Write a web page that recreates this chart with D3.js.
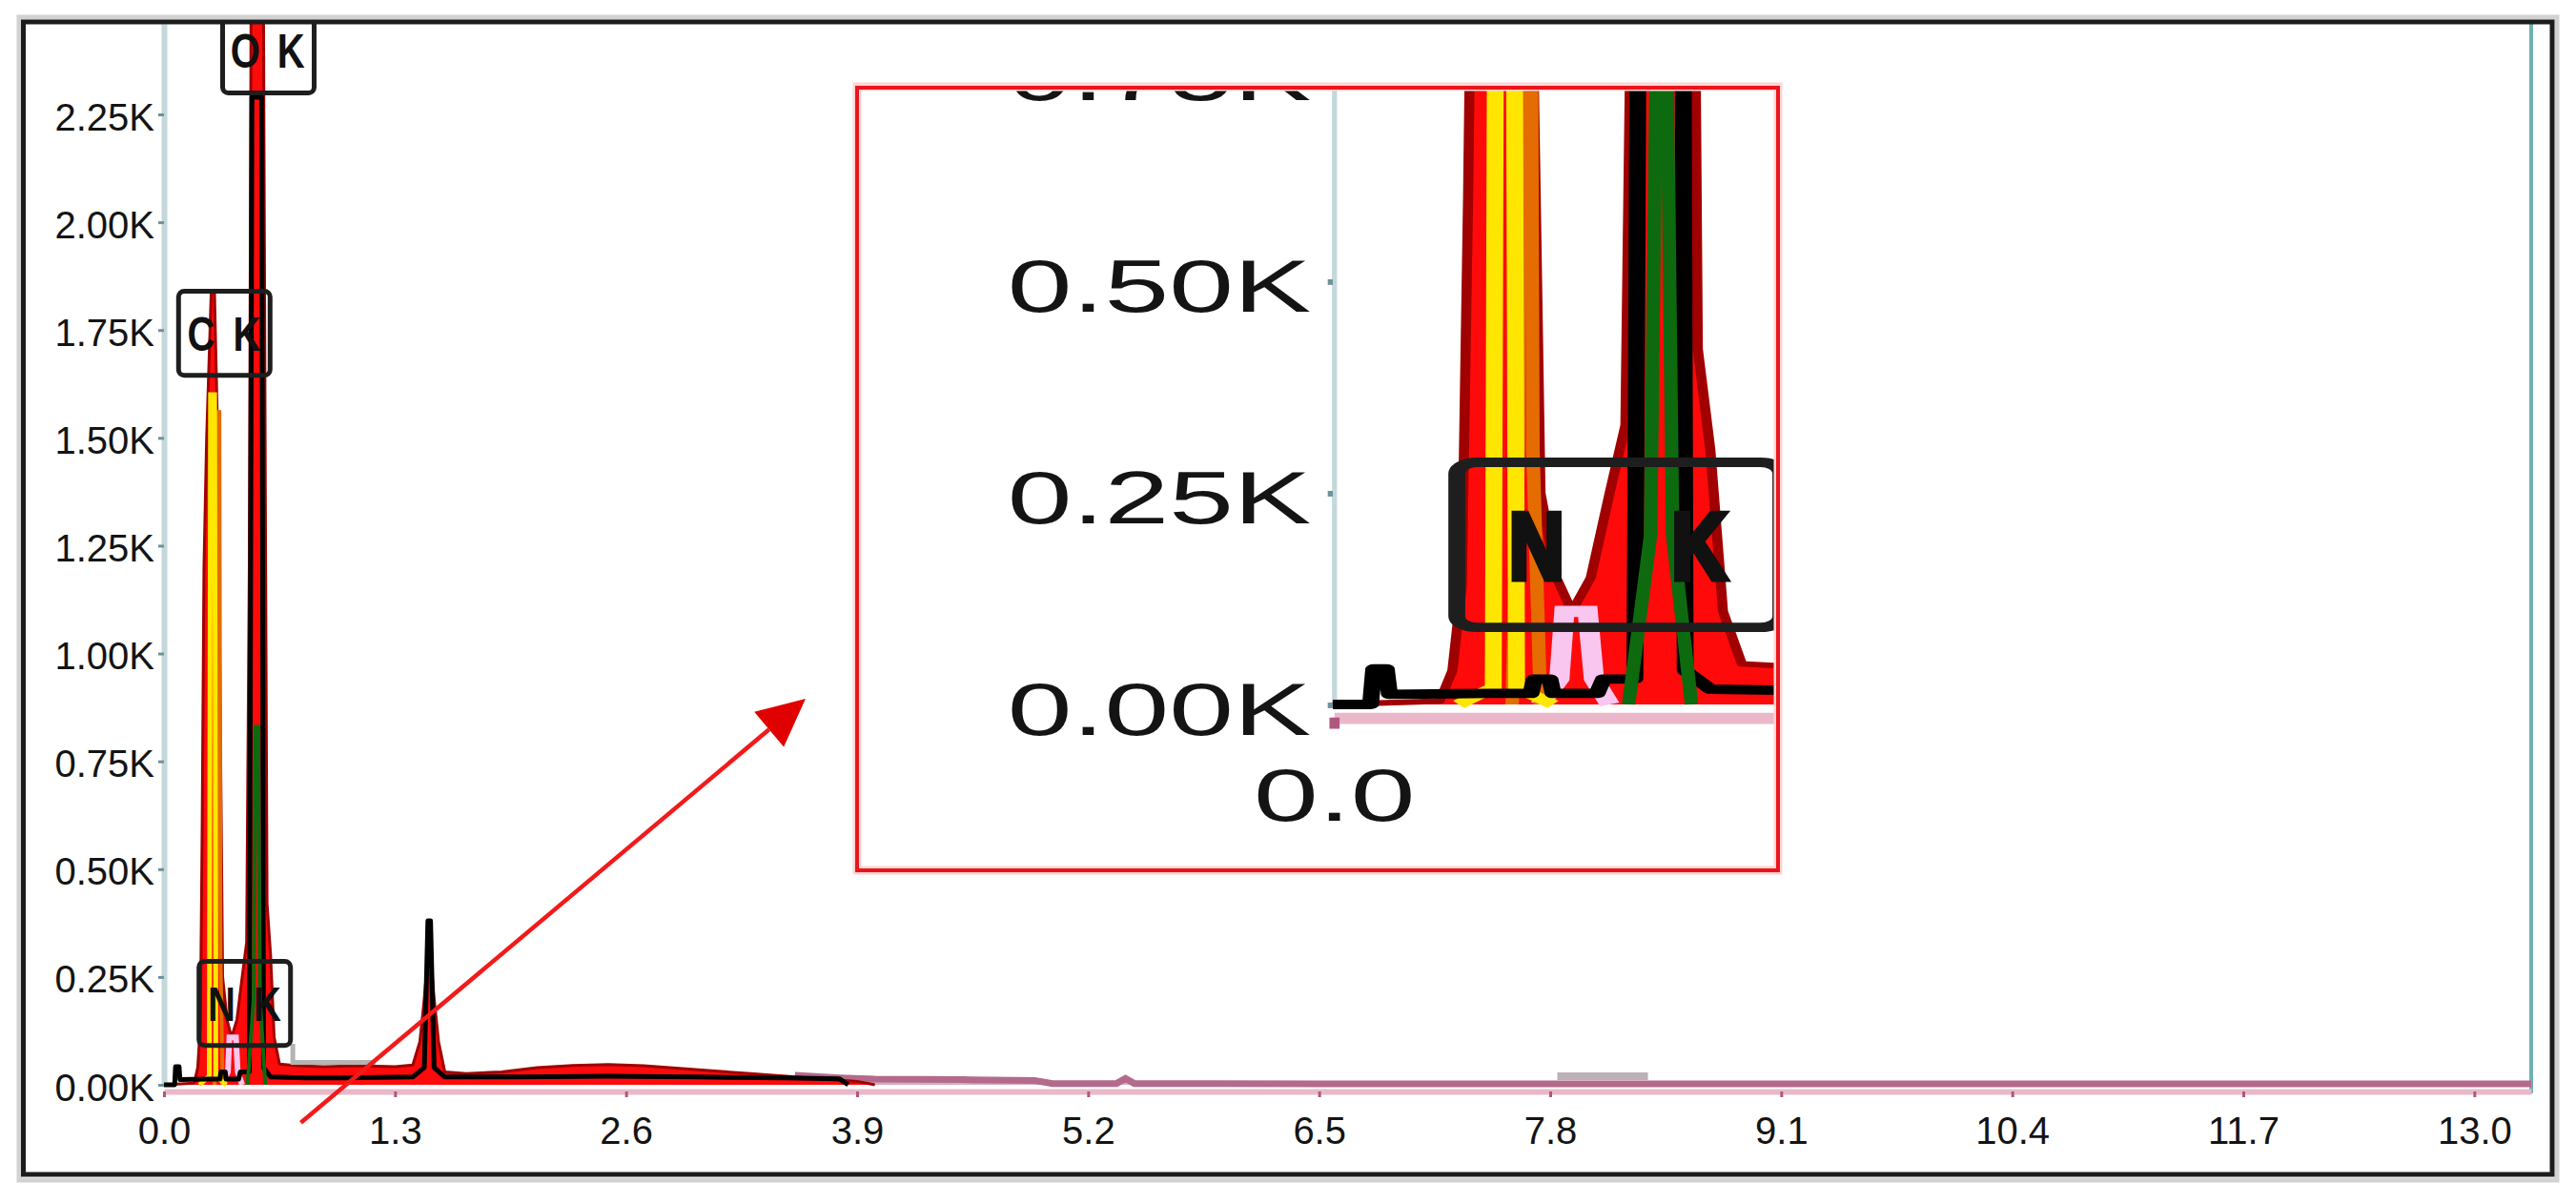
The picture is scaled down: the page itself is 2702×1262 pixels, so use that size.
<!DOCTYPE html>
<html><head><meta charset="utf-8">
<script src="https://cdn.jsdelivr.net/npm/d3@7"></script>
<style>html,body{margin:0;padding:0;background:#fff;} svg{display:block;}</style>
</head><body>
<svg id="chart" width="2702" height="1262"></svg>
<script>
// ---------------- data (energy keV, counts) ----------------
const xTicks = [0.0, 1.3, 2.6, 3.9, 5.2, 6.5, 7.8, 9.1, 10.4, 11.7, 13.0];
const yTicks = [0, 250, 500, 750, 1000, 1250, 1500, 1750, 2000, 2250];
const insetXTicks = [0.0];
const insetYTicks = [0, 250, 500, 750];

const redSpectrum = [
  [0.00,0],[0.17,4],[0.19,40],[0.205,140],[0.215,600],[0.225,1200],[0.24,1500],[0.266,1840],[0.284,1840],
  [0.305,1450],[0.318,800],[0.33,250],[0.355,150],[0.38,110],[0.41,150],[0.44,250],[0.465,330],[0.48,1200],
  [0.49,2500],[0.56,2500],[0.57,1400],[0.58,420],[0.60,300],[0.62,110],[0.65,48],[0.75,44],[0.9,42],
  [1.1,44],[1.3,42],[1.40,46],[1.44,100],[1.465,200],[1.48,275],[1.505,275],[1.52,200],[1.545,100],[1.58,30],
  [1.7,26],[1.9,30],[2.1,40],[2.3,45],[2.5,47],[2.7,44],[2.9,38],[3.1,32],[3.3,26],[3.5,20],[3.7,14],[3.9,8],[4.0,0]
];
const blackSpectrum = [
  [0.00,0],[0.06,0],[0.065,42],[0.085,42],[0.09,12],[0.25,13],[0.315,13],[0.32,30],[0.345,30],[0.35,13],
  [0.42,13],[0.43,30],[0.48,30],[0.495,2290],[0.55,2290],[0.56,40],[0.6,18],[0.8,16],[1.0,16],[1.4,18],
  [1.465,40],[1.485,380],[1.50,380],[1.52,40],[1.58,18],[2.0,18],[2.5,20],[3.0,18],[3.5,16],[3.8,14],[3.85,0]
];
const yellowSpectrum = [[0.20,0],[0.255,20],[0.262,1600],[0.285,1600],[0.292,20],[0.35,0]];
const orangeSpectrum = [[0.285,0],[0.295,300],[0.30,1560],[0.312,1560],[0.318,300],[0.33,0]];
const pinkSpectrum   = [[0.33,0],[0.36,30],[0.368,110],[0.405,110],[0.415,30],[0.44,0]];
const greenSpectrum  = [[0.47,0],[0.505,200],[0.515,830],[0.53,830],[0.54,200],[0.57,0]];
const mauveSpectrum  = [[3.55,22],[3.8,16],[4.0,13],[4.5,12],[4.9,10],[5.0,3],[5.36,3],[5.41,15],[5.46,3],[6.5,2],[9.0,2],[13.32,2]];
const greyTrace      = [[0.725,95],[0.725,52],[1.19,52]];
const greyBar        = [[7.84,20],[8.35,20]];

const elementSymbols  = ["C", "N", "O"];
const elementEnergies = [0.277, 0.392, 0.525];
const elementLines    = ["K", "K", "K"];
const labelBaseCounts = [1645, 91, 2300];

const arrowFrom = [0.77, -88];
const arrowTo   = [3.61, 895];

// ---------------- layout ----------------
const svg = d3.select("#chart");
const FONT = "'Liberation Sans Narrow','Liberation Sans',Arial,sans-serif";
const x = d3.scaleLinear().domain([0, 13.32]).range([172, 2655]);
const y = d3.scaleLinear().domain([0, 2460]).range([1138, 25]);

svg.append("rect").attr("width", 2702).attr("height", 1262).attr("fill", "#fff");

const defs = svg.append("defs");
defs.append("clipPath").attr("id", "plotClip").append("rect")
  .attr("x", x(0) - 2).attr("y", 24).attr("width", x(13.32) - x(0) + 4).attr("height", y(0) + 8 - 24);
const inset = {x0: 899, y0: 92, x1: 1865, y1: 913};
defs.append("clipPath").attr("id", "insetClip").append("rect")
  .attr("x", inset.x0).attr("y", inset.y0).attr("width", inset.x1 - inset.x0).attr("height", inset.y1 - inset.y0);

const line = d3.line().x(d => x(d[0])).y(d => y(d[1]));
const area = d3.area().x(d => x(d[0])).y0(y(0)).y1(d => y(d[1]));

function drawPlot(g, o) {
  // y axis
  const ya = g.append("g").attr("transform", `translate(${x(0)},0)`)
    .call(d3.axisLeft(y).tickValues(o.yTicks).tickFormat(d => (d / 1000).toFixed(2) + "K")
      .tickSize(o.tickSize).tickSizeOuter(0).tickPadding(o.tickPad));
  ya.select(".domain").attr("stroke", "#c4d8dc").attr("stroke-width", o.axisStroke);
  ya.selectAll(".tick line").attr("stroke", "#6f929a").attr("stroke-width", 3);
  ya.selectAll(".tick text").attr("font-family", FONT).attr("font-size", 40)
    .attr("fill", "#141414").attr("dy", "0.40em").attr("transform", `scale(${o.axisSX},1)`);

  // right border line
  if (o.rightLine) {
    g.append("line").attr("x1", x(13.32)).attr("x2", x(13.32)).attr("y1", y(2460)).attr("y2", y(0) + 9)
      .attr("stroke", "#6fb0b0").attr("stroke-width", 4);
  }

  // x axis
  const xa = g.append("g").attr("transform", `translate(0,${y(0) + 7})`)
    .call(d3.axisBottom(x).tickValues(o.xTicks).tickFormat(d3.format(".1f"))
      .tickSize(6).tickSizeOuter(0).tickPadding(21));
  xa.select(".domain").attr("stroke", "#eab8ca").attr("stroke-width", 6);
  xa.selectAll(".tick line").attr("stroke", "#b0577e").attr("stroke-width", 3);
  xa.selectAll(".tick text").attr("font-family", FONT).attr("font-size", 40).attr("fill", "#141414")
    .attr("transform", `scale(${o.axisSX},1)`);

  const sp = g.append("g").attr("clip-path", "url(#plotClip)");
  sp.append("path").datum(mauveSpectrum).attr("d", area).attr("fill", "#d8aabd");
  sp.append("path").datum(mauveSpectrum).attr("d", line).attr("fill", "none")
    .attr("stroke", "#b46a8b").attr("stroke-width", 7);
  sp.append("path").datum(redSpectrum).attr("d", area).attr("fill", "#ff0a0a");
  sp.append("path").datum(redSpectrum).attr("d", line).attr("fill", "none")
    .attr("stroke", "#a00000").attr("stroke-width", 3).attr("stroke-linejoin", "round");
  sp.append("path").datum(pinkSpectrum).attr("d", line).attr("fill", "none")
    .attr("stroke", "#f8c6ef").attr("stroke-width", 6);
  sp.append("path").datum(orangeSpectrum).attr("d", line).attr("fill", "none")
    .attr("stroke", "#e46c00").attr("stroke-width", 4);
  sp.append("path").datum(yellowSpectrum).attr("d", line).attr("fill", "none")
    .attr("stroke", "#ffe600").attr("stroke-width", 5);
  sp.append("path").datum(blackSpectrum).attr("d", line).attr("fill", "none")
    .attr("stroke", "#000").attr("stroke-width", 5).attr("stroke-linejoin", "round");
  sp.append("path").datum(greenSpectrum).attr("d", line).attr("fill", "none")
    .attr("stroke", "#0e6a0e").attr("stroke-width", 4);
  sp.append("path").datum(greyTrace).attr("d", line).attr("fill", "none")
    .attr("stroke", "#b4b4b4").attr("stroke-width", 5);
  sp.append("path").datum(greyBar).attr("d", line).attr("fill", "none")
    .attr("stroke", "#bdb0b6").attr("stroke-width", 8);

  // element labels
  elementSymbols.forEach((sym, i) => {
    const e = elementEnergies[i], b = labelBaseCounts[i];
    if (b > o.maxLabelCounts) return;
    const lg = sp.append("g");
    const yt = y(b + 195), yb = y(b), cy = (yt + yb) / 2;
    lg.append("rect").attr("x", x(e - 0.195)).attr("y", yt)
      .attr("width", x(e + 0.32) - x(e - 0.195)).attr("height", yb - yt)
      .attr("rx", 6).attr("fill", "none").attr("stroke", "#1e1e1e").attr("stroke-width", 5);
    [[sym, e - 0.068], [elementLines[i], e + 0.19]].forEach(([t, ex]) => {
      lg.append("text").attr("transform", `translate(${x(ex)},${cy}) scale(${o.labelSX},1)`)
        .attr("dy", "0.36em").attr("text-anchor", "middle").attr("font-family", FONT)
        .attr("font-weight", "bold").attr("font-size", 50).attr("fill", "#111")
        .attr("stroke", "#111").attr("stroke-width", o.labelStroke).text(t);
    });
  });
}

// main plot
drawPlot(svg.append("g"), {
  xTicks: xTicks, yTicks: yTicks, axisSX: 1, labelSX: 0.8, labelStroke: 0, axisStroke: 6,
  tickSize: 6, tickPad: 4, rightLine: true, maxLabelCounts: Infinity
});

// arrow
{
  const x0 = x(arrowFrom[0]), y0 = y(arrowFrom[1]), x1 = x(arrowTo[0]), y1 = y(arrowTo[1]);
  const dx = x1 - x0, dy = y1 - y0, L = Math.hypot(dx, dy), ux = dx / L, uy = dy / L;
  const hl = 50, hw = 24;
  const bx = x1 - ux * hl, by = y1 - uy * hl;
  svg.append("line").attr("x1", x0).attr("y1", y0).attr("x2", bx).attr("y2", by)
    .attr("stroke", "#f21a1a").attr("stroke-width", 4.5);
  svg.append("polygon").attr("points",
    [[x1, y1], [bx - uy * hw, by + ux * hw], [bx + uy * hw, by - ux * hw]].map(p => p.join(",")).join(" "))
    .attr("fill", "#e00000");
}

// inset (magnified view of the origin region)
{
  const ig = svg.append("g").attr("clip-path", "url(#insetClip)");
  ig.append("rect").attr("x", inset.x0).attr("y", inset.y0)
    .attr("width", inset.x1 - inset.x0).attr("height", inset.y1 - inset.y0).attr("fill", "#fff");
  const sx = 3.541, sy = 1.963;
  const inner = ig.append("g")
    .attr("transform", `translate(1398,739) scale(${sx},${sy}) translate(${-x(0)},${-y(0)})`);
  drawPlot(inner, {
    xTicks: insetXTicks, yTicks: insetYTicks, axisSX: 0.86, labelSX: 0.45, labelStroke: 3.5, axisStroke: 1.5,
    tickSize: 1.5, tickPad: 6, rightLine: false, maxLabelCounts: 750
  });
  svg.append("rect").attr("x", inset.x0).attr("y", inset.y0 - 1)
    .attr("width", inset.x1 - inset.x0).attr("height", inset.y1 - inset.y0 + 1)
    .attr("fill", "none").attr("stroke", "#ffd4d4").attr("stroke-width", 9);
  svg.append("rect").attr("x", inset.x0).attr("y", inset.y0)
    .attr("width", inset.x1 - inset.x0).attr("height", inset.y1 - inset.y0)
    .attr("fill", "none").attr("stroke", "#e8161c").attr("stroke-width", 4);
}

// outer frame
svg.append("rect").attr("x", 20).attr("y", 18).attr("width", 2662).attr("height", 1220)
  .attr("fill", "none").attr("stroke", "#d2d2d2").attr("stroke-width", 5);
svg.append("rect").attr("x", 24.5).attr("y", 23).attr("width", 2652.5).attr("height", 1209)
  .attr("fill", "none").attr("stroke", "#1c1c1c").attr("stroke-width", 5);
</script>
</body></html>
